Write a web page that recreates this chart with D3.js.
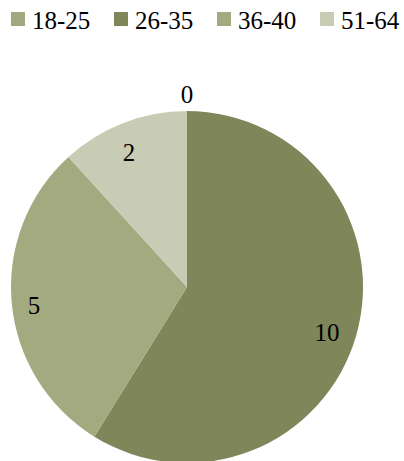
<!DOCTYPE html>
<html><head><meta charset="utf-8">
<script src="https://cdn.jsdelivr.net/npm/d3@7"></script>
<style>body{margin:0;background:#fff}svg{display:block}
text{font-family:"Liberation Serif","Times New Roman",Times,serif;}</style>
</head><body>
<script>
const categories = ["18-25", "26-35", "36-40", "51-64"];
const values = [0, 10, 5, 2];
const colors = ["#a3a97f", "#7f865a", "#a4aa80", "#c9ccb4"];

const W = 404, H = 461;
const svg = d3.select("body").append("svg").attr("width", W).attr("height", H);

// legend
const lg = svg.append("g");
const legendX = d3.scalePoint().domain(categories).range([11, 320]);
categories.forEach((c, i) => {
  const g = lg.append("g").attr("transform", `translate(${legendX(c)},0)`);
  g.append("rect").attr("x", 0).attr("y", 12).attr("width", 14).attr("height", 14).attr("fill", colors[i]);
  g.append("text").attr("x", 21).attr("y", 29).style("font-size", "25px")
    .attr("fill", "#000").text(c);
});

// pie
const cx = 187, cy = 287, R = 176;
const pie = d3.pie().sort(null).value(d => d)(values);
const arc = d3.arc().innerRadius(0).outerRadius(R);
const g = svg.append("g").attr("transform", `translate(${cx},${cy})`);
g.selectAll("path").data(pie).join("path")
  .attr("d", arc).attr("fill", (d, i) => colors[i]).attr("stroke", "none");

const labelArc = d3.arc().innerRadius(R * 0.85).outerRadius(R * 0.85);
const outerArc = d3.arc().innerRadius(R * 1.09).outerRadius(R * 1.09);
g.selectAll("text").data(pie).join("text")
  .attr("transform", d => {
    const p = d.value === 0 ? outerArc.centroid(d) : labelArc.centroid(d);
    const off = d.value === 0 ? [0, 0] : [-4, 5];
    return `translate(${p[0] + off[0]},${p[1] + off[1]})`;
  })
  .attr("text-anchor", "middle").attr("dy", "0.33em")
  .style("font-size", "25px").attr("fill", "#000")
  .text(d => d.value);
</script>
</body></html>
